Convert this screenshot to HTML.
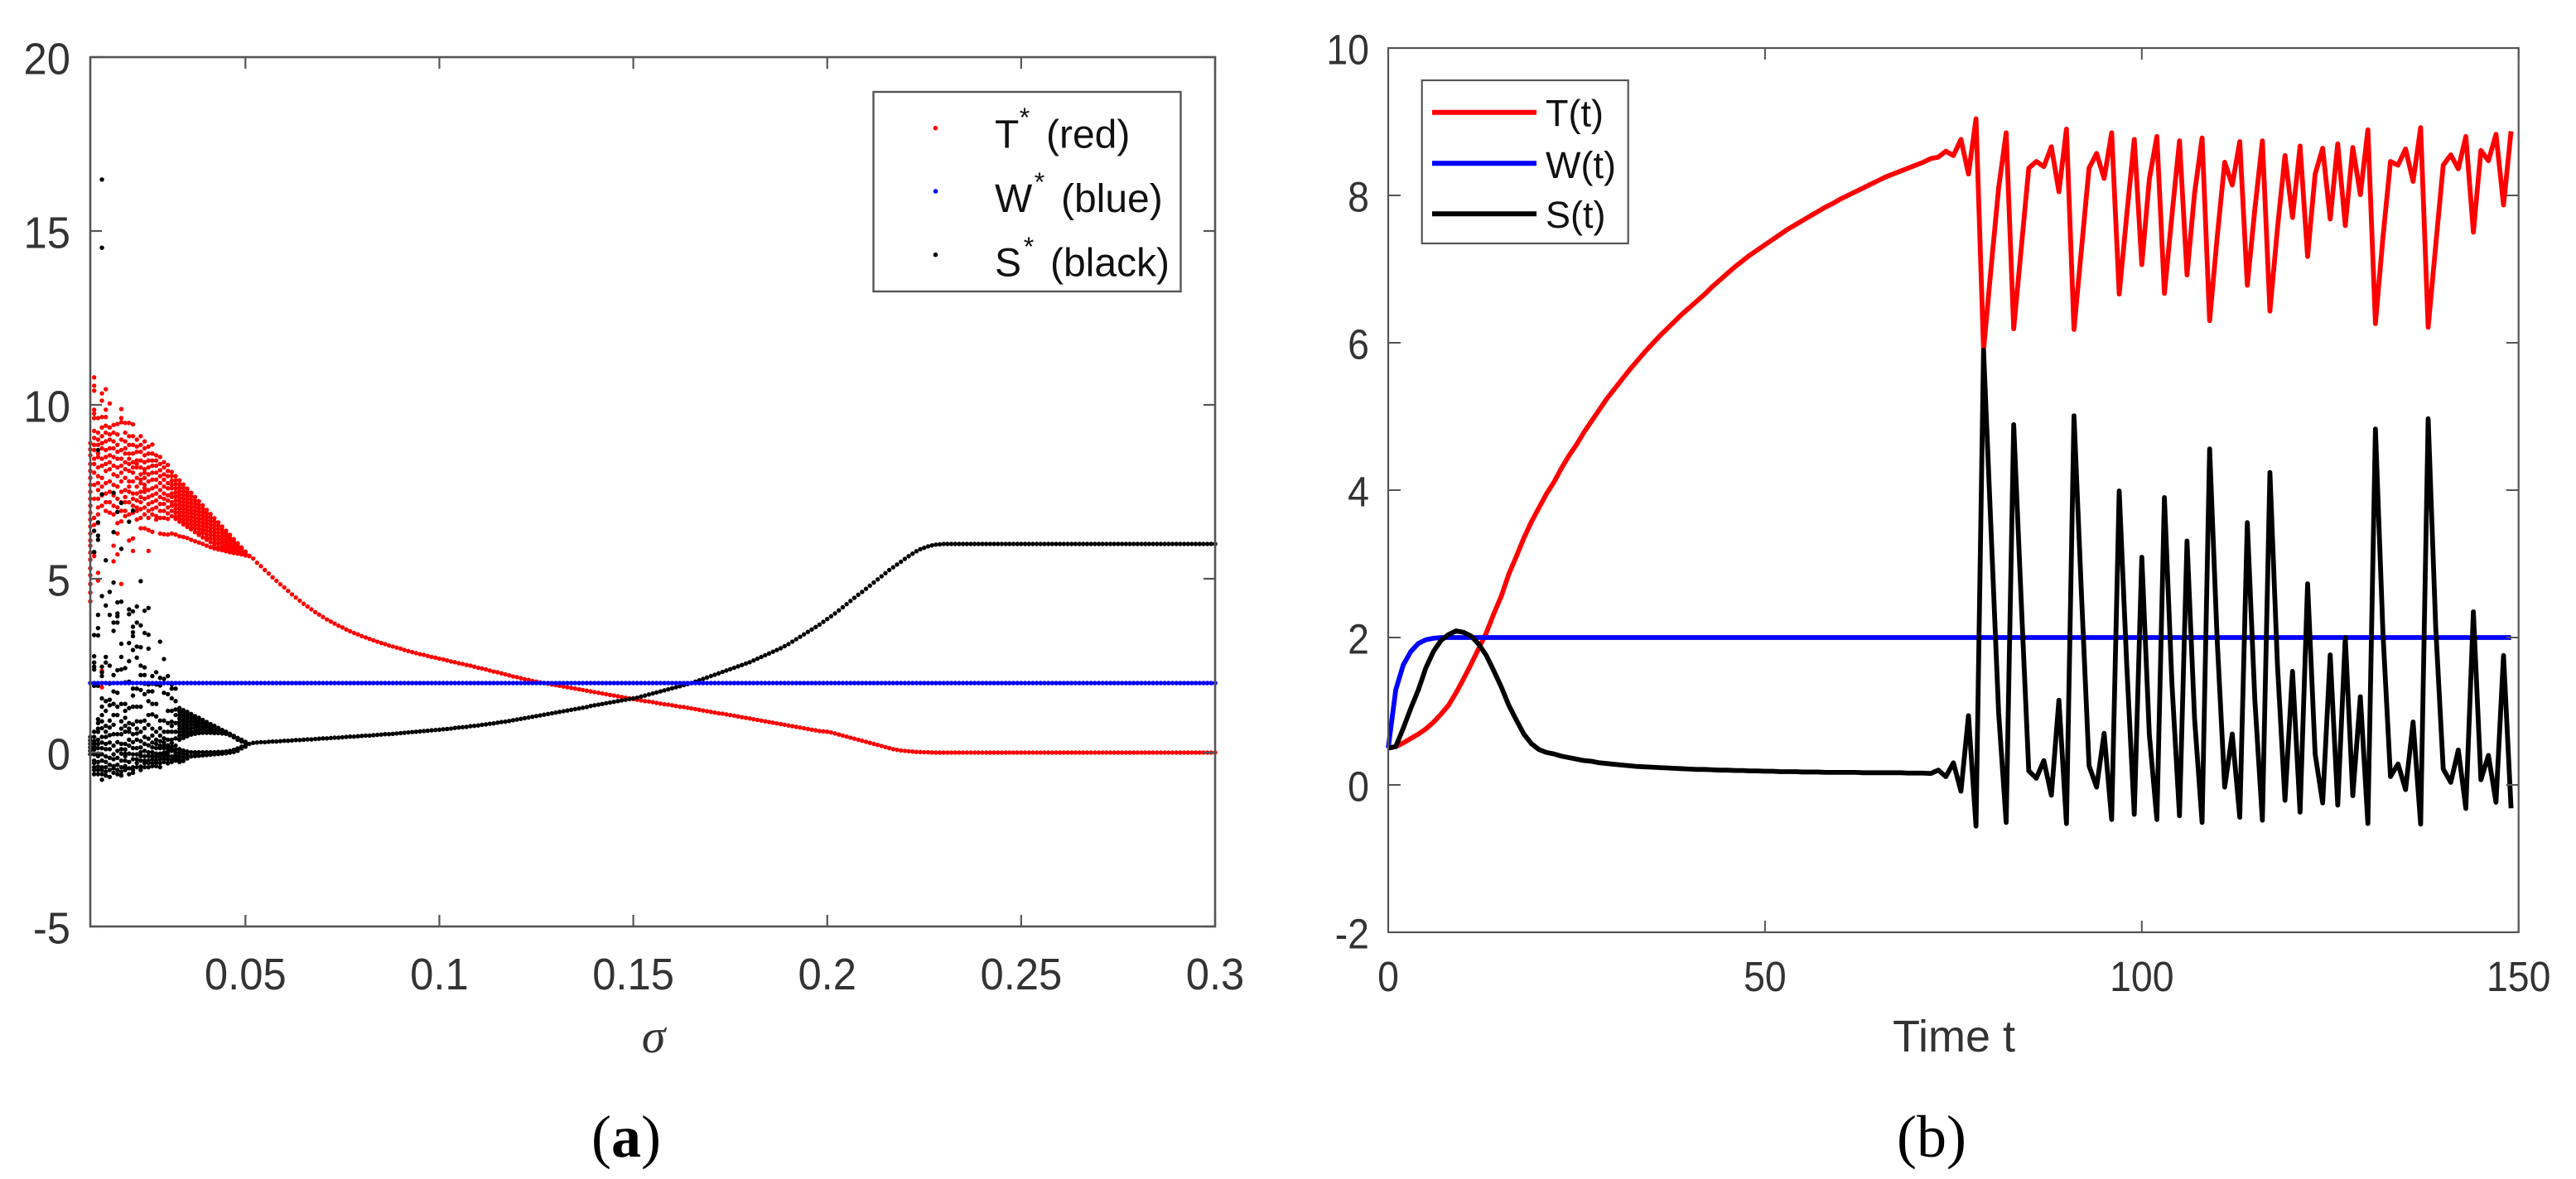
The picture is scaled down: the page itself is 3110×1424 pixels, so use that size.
<!DOCTYPE html>
<html lang="en">
<head>
<meta charset="utf-8">
<title>Bifurcation diagram and time series</title>
<style>
html,body{margin:0;padding:0;background:#fff;}
svg{display:block;font-family:"Liberation Sans",Arial,sans-serif;}
</style>
</head>
<body>
<svg id="figure" xmlns="http://www.w3.org/2000/svg" width="3110" height="1424" viewBox="0 0 3110 1424">
  <rect width="3110" height="1424" fill="#fff"/>
  <g id="panelA">
    <g id="marksA"></g>
    <rect x="109" y="69" width="1358" height="1050" fill="none" stroke="#555" stroke-width="2.6"/>
    <g id="ticksA"></g>
    <text x="789" y="1271" text-anchor="middle" font-family="'Liberation Serif',serif" font-style="italic" font-size="58" fill="#333">σ</text>
    <text x="756" y="1397" text-anchor="middle" font-family="'Liberation Serif',serif" font-size="72" fill="#000">(<tspan font-weight="bold">a</tspan>)</text>
    <g>
      <rect x="1054.5" y="111" width="371" height="241" fill="#fff" stroke="#555" stroke-width="2.4"/>
      <g>
        <circle cx="1129.5" cy="154.7" r="2.8" fill="#f00"/>
        <text x="1201" y="178.5" font-size="48" fill="#111">T</text>
        <text x="1237" y="153" text-anchor="middle" font-size="32" fill="#111">*</text>
        <text x="1263" y="178.5" font-size="48" fill="#111">(red)</text>
      </g>
      <g>
        <circle cx="1129.5" cy="231" r="2.8" fill="#00f"/>
        <text x="1201" y="256" font-size="48" fill="#111">W</text>
        <text x="1255" y="231" text-anchor="middle" font-size="32" fill="#111">*</text>
        <text x="1281" y="256" font-size="48" fill="#111">(blue)</text>
      </g>
      <g>
        <circle cx="1129.5" cy="307.7" r="2.8" fill="#000"/>
        <text x="1201" y="333.5" font-size="48" fill="#111">S</text>
        <text x="1242" y="309" text-anchor="middle" font-size="32" fill="#111">*</text>
        <text x="1268" y="333.5" font-size="48" fill="#111">(black)</text>
      </g>
    </g>
  </g>
  <g id="panelB">
    <g id="marksB"></g>
    <rect x="1676" y="58" width="1364.7" height="1068" fill="none" stroke="#555" stroke-width="2.2"/>
    <g id="ticksB"></g>
    <text x="2359" y="1270" text-anchor="middle" font-size="54" fill="#333">Time t</text>
    <text x="2332" y="1397" text-anchor="middle" font-family="'Liberation Serif',serif" font-size="72" fill="#000">(b)</text>
    <g>
      <rect x="1716.7" y="97" width="249" height="197" fill="#fff" stroke="#555" stroke-width="2.2"/>
      <line x1="1729" x2="1855" y1="135.7" y2="135.7" stroke="#f00" stroke-width="6"/>
      <text x="1866" y="152.7" font-size="45" fill="#111">T(t)</text>
      <line x1="1729" x2="1855" y1="197.3" y2="197.3" stroke="#00f" stroke-width="6"/>
      <text x="1866" y="215" font-size="45" fill="#111">W(t)</text>
      <line x1="1729" x2="1855" y1="258.3" y2="258.3" stroke="#000" stroke-width="6"/>
      <text x="1866" y="275" font-size="45" fill="#111">S(t)</text>
    </g>
  </g>
</svg>
<script>
/* ---------- Panel (a): values ---------- */
const sigmaChaotic = [0.010,0.011,0.012,0.013,0.014,0.015,0.016,0.017,0.018,0.019,0.020,0.021,0.022,0.023,0.024,0.025,0.026,0.027,0.028,0.029,0.030,0.031,0.032,0.033,0.034,0.035,0.036,0.037,0.038,0.039,0.040,0.041,0.042,0.043,0.044,0.045,0.046,0.047,0.048,0.049,0.050,0.051];
const sigmaStable = [0.052,0.053,0.054,0.055,0.056,0.057,0.058,0.059,0.060,0.061,0.062,0.063,0.064,0.065,0.066,0.067,0.068,0.069,0.070,0.071,0.072,0.073,0.074,0.075,0.076,0.077,0.078,0.079,0.080,0.081,0.082,0.083,0.084,0.085,0.086,0.087,0.088,0.089,0.090,0.091,0.092,0.093,0.094,0.095,0.096,0.097,0.098,0.099,0.100,0.101,0.102,0.103,0.104,0.105,0.106,0.107,0.108,0.109,0.110,0.111,0.112,0.113,0.114,0.115,0.116,0.117,0.118,0.119,0.120,0.121,0.122,0.123,0.124,0.125,0.126,0.127,0.128,0.129,0.130,0.131,0.132,0.133,0.134,0.135,0.136,0.137,0.138,0.139,0.140,0.141,0.142,0.143,0.144,0.145,0.146,0.147,0.148,0.149,0.150,0.151,0.152,0.153,0.154,0.155,0.156,0.157,0.158,0.159,0.160,0.161,0.162,0.163,0.164,0.165,0.166,0.167,0.168,0.169,0.170,0.171,0.172,0.173,0.174,0.175,0.176,0.177,0.178,0.179,0.180,0.181,0.182,0.183,0.184,0.185,0.186,0.187,0.188,0.189,0.190,0.191,0.192,0.193,0.194,0.195,0.196,0.197,0.198,0.199,0.200,0.201,0.202,0.203,0.204,0.205,0.206,0.207,0.208,0.209,0.210,0.211,0.212,0.213,0.214,0.215,0.216,0.217,0.218,0.219,0.220,0.221,0.222,0.223,0.224,0.225,0.226,0.227,0.228,0.229,0.230,0.231,0.232,0.233,0.234,0.235,0.236,0.237,0.238,0.239,0.240,0.241,0.242,0.243,0.244,0.245,0.246,0.247,0.248,0.249,0.250,0.251,0.252,0.253,0.254,0.255,0.256,0.257,0.258,0.259,0.260,0.261,0.262,0.263,0.264,0.265,0.266,0.267,0.268,0.269,0.270,0.271,0.272,0.273,0.274,0.275,0.276,0.277,0.278,0.279,0.280,0.281,0.282,0.283,0.284,0.285,0.286,0.287,0.288,0.289,0.290,0.291,0.292,0.293,0.294,0.295,0.296,0.297,0.298,0.299,0.300];

const tStarChaotic = [
[8.9,8.72,8.55,8.3,8.1,7.9,7.7,7.5,7.3,7.1,6.9,6.7,6.5,6.3,6.1,5.95,5.75,5.55,5.3,5.1,4.85,4.6,4.35],
[10.79,10.55,10.41,9.86,9.75,9.62,9.25,9.05,8.85,8.7,8.45,8.3,8.05,7.7,7.3,6.75,6.55,5.75,5.65],
[9.62,9.2,9.0,8.85,8.6,8.5,8.2,7.95,7.75,7.55,7.3,7.05,6.85,6.6,5.17,4.95],
[10.33,10.12,9.65,9.35,9.1,8.9,8.75,8.45,8.25,7.9,7.65,7.4,7.1,2.35,1.88],
[10.45,9.86,9.65,9.4,9.2,8.95,8.7,8.5,8.3,8.1,7.75,7.45,7.2,6.95],
[10.04,9.35,9.15,9.0,8.75,8.55,8.35,8.15,7.8,7.5,7.2,6.9],
[9.42,9.2,8.95,8.75,8.5,8.25,8.0,7.7,7.4,7.1,6.85,5.95,5.5],
[9.45,9.15,8.85,8.65,8.45,8.2,7.95,7.65,7.3,7.05,6.6,6.3,5.7],
[9.88,9.62,9.5,9.0,8.7,8.45,8.25,8.05,7.8,7.5,7.2,6.95,6.65,4.85],
[9.48,9.2,8.95,8.75,8.6,8.35,8.15,7.9,7.55,7.35,7.2,6.95,6.8],
[9.48,9.1,8.85,8.6,8.45,8.3,8.1,7.8,7.65,7.5,7.2,6.85,6.1],
[9.44,9.1,8.85,8.6,8.35,8.2,8.05,7.8,7.45,7.3,7.1,6.9,6.16,5.8],
[9.0,8.8,8.65,8.4,8.3,8.2,7.9,7.65,7.45,7.25,7.05,6.95,6.7],
[9.1,8.85,8.65,8.4,8.2,8.0,7.85,7.75,7.5,7.35,7.2,7.0,6.75,6.45],
[8.95,8.75,8.55,8.35,8.15,8.05,7.9,7.7,7.6,7.5,7.3,7.05,6.85,6.45],
[8.8,8.6,8.4,8.2,8.0,7.8,7.55,7.35,7.15,6.95,6.75,6.4,5.8],
[8.86,8.6,8.4,8.25,8.05,7.85,7.6,7.4,7.2,7.0,6.85,6.35],
[8.55,8.4,8.25,8.05,7.85,7.65,7.45,7.25,7.05,6.8,6.7],
[8.5,8.3,8.12,7.95,7.75,7.55,7.35,7.15,6.95,6.75,6.3],
[8.35,8.2,8.0,7.85,7.65,7.45,7.3,7.15,6.95,6.75,6.28],
[8.27,8.1,7.95,7.75,7.6,7.4,7.25,7.05,6.88,6.72,6.27],
[8.07,7.95,7.82,7.7,7.6,7.45,7.35,7.2,7.1,6.95,6.8,6.3],
[7.95,7.83,7.72,7.6,7.48,7.37,7.25,7.13,7.02,6.9,6.78,6.72,6.27],
[7.83,7.72,7.62,7.52,7.42,7.32,7.22,7.12,7.02,6.92,6.82,6.72,6.64,6.22],
[7.71,7.61,7.51,7.41,7.31,7.21,7.11,7.01,6.91,6.81,6.71,6.61,6.56,6.2],
[7.59,7.49,7.39,7.29,7.19,7.09,6.99,6.89,6.79,6.69,6.59,6.49,6.17],
[7.47,7.37,7.27,7.17,7.07,6.97,6.87,6.77,6.67,6.57,6.47,6.42,6.12],
[7.35,7.25,7.15,7.05,6.95,6.85,6.75,6.65,6.55,6.45,6.34,6.08],
[7.23,7.13,7.03,6.93,6.83,6.73,6.63,6.53,6.43,6.33,6.26,6.04],
[7.11,7.01,6.91,6.81,6.71,6.61,6.51,6.41,6.31,6.19,6.0],
[6.98,6.88,6.78,6.68,6.58,6.48,6.38,6.28,6.18,6.12,5.95],
[6.86,6.76,6.66,6.56,6.46,6.36,6.26,6.16,6.05,5.91],
[6.74,6.64,6.54,6.44,6.34,6.24,6.14,6.04,5.97,5.87],
[6.62,6.52,6.42,6.32,6.22,6.12,6.02,5.9,5.84],
[6.5,6.41,6.32,6.23,6.14,6.05,5.96,5.88,5.82],
[6.38,6.3,6.22,6.14,6.06,5.98,5.9,5.84,5.79],
[6.26,6.18,6.1,6.02,5.94,5.87,5.81,5.76],
[6.14,6.07,6.0,5.93,5.86,5.8,5.74],
[6.02,5.96,5.9,5.84,5.78,5.72],
[5.9,5.84,5.79,5.74,5.7],
[5.78,5.74,5.7,5.67],
[5.66,5.65]
];
const tStarStable = [5.58,5.46,5.36,5.25,5.15,5.04,4.94,4.84,4.75,4.65,4.55,4.46,4.37,4.28,4.20,4.12,4.04,3.97,3.90,3.83,3.77,3.71,3.65,3.60,3.54,3.49,3.44,3.40,3.35,3.31,3.27,3.23,3.19,3.15,3.12,3.08,3.05,3.02,2.99,2.95,2.92,2.89,2.86,2.83,2.81,2.78,2.75,2.73,2.70,
2.68,2.65,2.62,2.60,2.57,2.55,2.52,2.50,2.47,2.44,2.42,2.39,2.36,2.33,2.31,2.28,2.25,2.22,2.19,2.17,2.14,2.11,2.09,2.06,2.04,2.02,2.00,
1.98,1.96,1.94,1.92,1.90,1.88,1.86,1.84,1.82,1.80,1.78,1.76,1.74,1.72,1.70,1.68,1.66,1.64,1.62,1.60,1.58,1.56,1.54,
1.52,1.50,1.48,1.47,1.45,1.43,1.41,1.39,1.38,1.36,1.34,1.32,1.31,1.29,1.27,1.25,1.23,1.21,1.19,1.17,1.15,1.13,1.12,1.10,1.08,
1.06,1.04,1.02,1.00,0.98,0.96,0.94,0.92,0.90,0.88,0.86,0.84,0.82,0.80,0.78,0.76,0.74,0.72,0.70,0.68,0.66,0.64,0.62,0.61,0.60,
0.58,0.55,0.52,0.49,0.46,0.43,0.40,0.37,0.34,0.31,0.28,0.25,0.22,0.19,0.16,0.13,0.10,0.08,0.06,0.05,0.04,0.03,0.02,0.015,0.01,0.01,0.005,0,0,0,
0,0,0,0,0,0,0,0,0,0,0,0,0,0,0,0,0,0,0,0,0,0,0,0,0,0,0,0,0,0,0,0,0,0,0,0,0,0,0,0,0,0,0,0,0,0,0,0,0,0,0,0,0,0,0,0,0,0,0,0,0,0,0,0,0,0,0,0,0,0];

const sStarChaotic = [
[0.45,0.35,0.25,0.15,0.05,-0.05],
[6.38,5.77,3.38,2.77,2.59,2.47,2.39,1.92,0.6,0.45,0.33,0.25,0.17,0.09,-0.05,-0.23,-0.3,-0.42,-0.5,-0.62],
[8.7,6.62,6.24,6.12,3.96,3.58,3.37,1.92,0.96,0.85,0.69,0.6,0.37,0.25,0.13,-0.03,-0.1,-0.27,-0.4,-0.5,-0.62],
[14.52,16.48,7.43,4.5,2.47,2.31,2.2,1.56,1.32,1.08,0.9,0.7,0.45,0.29,0.13,-0.05,-0.23,-0.42,-0.5,-0.62,-0.78],
[5.53,4.23,2.75,2.59,1.48,1.2,0.77,0.6,0.45,0.25,0.1,-0.11,-0.27,-0.42,-0.55,-0.66],
[4.62,3.96,2.5,1.98,1.52,1.36,0.92,0.72,0.5,0.29,0.1,-0.15,-0.35,-0.5,-0.7],
[7.47,6.34,4.89,3.74,3.5,2.23,1.76,1.4,1.08,0.8,0.53,0.2,-0.05,-0.19,-0.39,-0.45,-0.58],
[6.92,4.32,4.0,3.92,3.74,2.37,1.72,1.32,1.08,0.53,0.3,0.05,-0.15,-0.35,-0.5,-0.62],
[7.18,5.86,4.34,3.13,2.75,2.39,1.4,0.9,0.69,0.53,0.25,0.1,-0.03,-0.23,-0.42,-0.55,-0.66],
[2.43,2.02,1.4,1.2,1.0,0.77,0.6,0.25,0.09,-0.03,-0.1,-0.23,-0.39,-0.46,-0.5],
[6.64,4.12,3.98,3.15,2.63,2.04,1.28,0.85,0.69,0.6,0.37,0.2,-0.03,-0.27,-0.45,-0.62],
[6.96,4.06,3.62,3.46,3.35,2.95,1.84,1.64,1.32,0.81,0.53,0.3,0.13,-0.05,-0.19,-0.42,-0.5,-0.58],
[4.2,3.74,3.05,2.73,1.84,1.32,0.9,0.69,0.55,0.37,0.13,-0.05,-0.19,-0.3,-0.42],
[4.93,3.66,3.03,2.5,2.23,1.8,1.32,0.89,0.6,0.33,0.15,0.01,-0.1,-0.23,-0.4,-0.5],
[4.08,3.44,2.45,2.23,1.98,1.68,0.92,0.7,0.45,0.25,0.05,-0.1,-0.23,-0.3,-0.42],
[4.16,3.39,2.99,1.96,1.76,1.48,1.08,0.8,0.4,0.21,0.01,-0.1,-0.23,-0.3,-0.42],
[2.2,1.98,1.76,1.4,1.1,0.69,0.49,0.29,0.15,0.01,-0.1,-0.19,-0.3,-0.39],
[2.31,1.96,1.4,1.04,0.6,0.37,0.25,0.13,-0.03,-0.12,-0.23,-0.3,-0.39],
[3.19,2.15,1.93,0.92,0.7,0.49,0.33,0.2,0.13,-0.03,-0.1,-0.19,-0.3,-0.42],
[2.69,2.12,2.0,1.72,0.92,0.6,0.41,0.29,0.2,0.13,0.0,-0.07,-0.17,-0.27],
[2.2,1.68,1.2,0.85,0.6,0.37,0.21,0.13,0.05,-0.02,-0.11,-0.2,-0.31],
[1.96,1.84,1.56,1.2,0.89,0.77,0.6,0.37,0.28,0.17,0.11,0.05,-0.11,-0.2,-0.27],
[1.84,1.48,1.24,1.08,0.85,0.6,0.41,0.2,0.09,0.0,-0.07,-0.15,-0.23],
[1.28,1.18,1.08,0.98,0.88,0.78,0.68,0.58,0.48,0.37,0.1,0.0,-0.1,-0.2,-0.27],
[1.22,1.12,1.02,0.92,0.82,0.72,0.62,0.52,0.42,0.06,-0.04,-0.14,-0.24],
[1.17,1.07,0.97,0.87,0.77,0.67,0.57,0.47,0.03,-0.07,-0.17],
[1.11,1.01,0.91,0.81,0.71,0.61,0.52,0.01,-0.11],
[1.05,0.96,0.87,0.78,0.69,0.6,0.54,0.01,-0.05,-0.1],
[1.0,0.91,0.82,0.73,0.64,0.56,0.01,-0.09],
[0.94,0.85,0.76,0.67,0.57,0.01,-0.08],
[0.88,0.8,0.72,0.64,0.57,0.01,-0.07],
[0.82,0.74,0.66,0.57,0.01,-0.06],
[0.77,0.7,0.63,0.56,0.01,-0.05],
[0.71,0.64,0.56,0.02,-0.04],
[0.65,0.6,0.55,0.02,-0.03],
[0.6,0.54,0.03,-0.02],
[0.54,0.5,0.05,0.0],
[0.48,0.44,0.08,0.02],
[0.42,0.37,0.12,0.05],
[0.37,0.32,0.17,0.12],
[0.31,0.28,0.21,0.17],
[0.25]
];
const sStarStable = [0.28,0.29,0.30,0.30,0.31,0.32,0.32,0.33,0.34,
0.34,0.35,0.36,0.36,0.37,0.38,0.38,0.39,0.40,0.41,
0.41,0.42,0.43,0.43,0.44,0.45,0.46,0.46,0.47,0.48,
0.49,0.49,0.50,0.51,0.52,0.53,0.53,0.54,0.55,0.56,
0.57,0.58,0.59,0.60,0.61,0.62,0.63,0.64,0.65,0.66,
0.67,0.68,0.69,0.71,0.72,0.73,0.74,0.76,0.77,0.78,
0.80,0.81,0.83,0.84,0.86,0.88,0.89,0.91,0.93,0.95,
0.97,0.99,1.01,1.03,1.05,1.07,1.09,1.11,1.13,1.15,
1.17,1.19,1.21,1.23,1.25,1.27,1.29,1.31,1.34,1.36,
1.38,1.40,1.42,1.44,1.46,1.48,1.50,1.52,1.54,1.56,
1.58,1.61,1.64,1.67,1.70,1.73,1.76,1.79,1.82,1.85,
1.88,1.91,1.94,1.97,2.00,2.04,2.08,2.12,2.16,2.20,
2.24,2.28,2.32,2.36,2.40,2.44,2.48,2.52,2.56,2.60,
2.65,2.70,2.75,2.80,2.85,2.90,2.95,3.00,3.06,3.12,
3.19,3.26,3.33,3.40,3.47,3.54,3.61,3.68,3.76,3.84,
3.92,4.00,4.09,4.18,4.27,4.36,4.45,4.54,4.62,4.71,
4.80,4.89,4.98,5.07,5.16,5.25,5.33,5.41,5.49,5.57,
5.65,5.72,5.79,5.85,5.89,5.93,5.96,5.98,5.99,6.00,
6,6,6,6,6,6,6,6,6,6,6,6,6,6,6,6,6,6,6,6,6,6,6,6,6,6,6,6,6,6,6,6,6,6,6,6,6,6,6,6,6,6,6,6,6,6,6,6,6,6,6,6,6,6,6,6,6,6,6,6,6,6,6,6,6,6,6,6,6,6];

const wStarLevel = [2,2,2,2,2,2,2,2,2,2,2,2,2,2,2,2,2,2,2,2,2,2,2,2,2,2,2,2,2,2,2,2,2,2,2,2,2,2,2,2,2,2,2,2,2,2,2,2,2,2,2,2,2,2,2,2,2,2,2,2,2,2,2,2,2,2,2,2,2,2,2,2,2,2,2,2,2,2,2,2,2,2,2,2,2,2,2,2,2,2,2,2,2,2,2,2,2,2,2,2,2,2,2,2,2,2,2,2,2,2,2,2,2,2,2,2,2,2,2,2,2,2,2,2,2,2,2,2,2,2,2,2,2,2,2,2,2,2,2,2,2,2,2,2,2,2,2,2,2,2,2,2,2,2,2,2,2,2,2,2,2,2,2,2,2,2,2,2,2,2,2,2,2,2,2,2,2,2,2,2,2,2,2,2,2,2,2,2,2,2,2,2,2,2,2,2,2,2,2,2,2,2,2,2,2,2,2,2,2,2,2,2,2,2,2,2,2,2,2,2,2,2,2,2,2,2,2,2,2,2,2,2,2,2,2,2,2,2,2,2,2,2,2,2,2,2,2,2,2,2,2,2,2,2,2,2,2,2,2,2,2,2,2,2,2,2,2,2,2,2,2,2,2,2,2,2,2,2,2,2,2,2,2,2,2,2,2,2,2,2,2,2,2,2,2,2];

const xTicksA = [0.05,0.1,0.15,0.2,0.25,0.3];
const xTickLabelsA = ["0.05","0.1","0.15","0.2","0.25","0.3"];
const yTicksA = [-5,0,5,10,15,20];
const yTickLabelsA = ["-5","0","5","10","15","20"];

/* ---------- Panel (b): values ---------- */
const timeValues = [0,1,2,3,4,5,6,7,8,9,10,11,12,13,14,15,16,17,18,19,20,21,22,23,24,25,26,27,28,29,30,31,32,33,34,35,36,37,38,39,40,41,42,43,44,45,46,47,48,49,50,51,52,53,54,55,56,57,58,59,60,61,62,63,64,65,66,67,68,69,70,71,72,73,74,75,76,77,78,79,80,81,82,83,84,85,86,87,88,89,90,91,92,93,94,95,96,97,98,99,100,101,102,103,104,105,106,107,108,109,110,111,112,113,114,115,116,117,118,119,120,121,122,123,124,125,126,127,128,129,130,131,132,133,134,135,136,137,138,139,140,141,142,143,144,145,146,147,148,149];
const tSeries = [0.5,0.52,0.57,0.63,0.69,0.76,0.85,0.96,1.08,1.25,
1.44,1.64,1.85,2.06,2.32,2.56,2.86,3.1,3.35,3.57,
3.76,3.95,4.11,4.3,4.47,4.62,4.79,4.94,5.09,5.24,
5.37,5.5,5.63,5.75,5.87,5.98,6.09,6.19,6.29,6.39,
6.48,6.57,6.66,6.76,6.85,6.94,7.03,7.11,7.19,7.26,
7.33,7.4,7.47,7.54,7.6,7.66,7.72,7.78,7.84,7.89,
7.95,8.0,8.05,8.1,8.15,8.2,8.25,8.29,8.33,8.37,
8.41,8.45,8.5,8.52,8.6,8.54,8.76,8.29,9.04,5.9,
7.02,8.1,8.85,6.19,7.28,8.37,8.46,8.39,8.66,8.05,
8.9,6.18,7.28,8.37,8.57,8.23,8.85,6.66,7.73,8.76,
7.06,8.22,8.8,6.67,7.73,8.74,6.92,8.03,8.78,6.3,
7.43,8.45,8.14,8.73,6.78,7.81,8.74,6.43,7.55,8.54,
7.7,8.67,7.17,8.29,8.64,7.68,8.7,7.59,8.65,8.01,
8.89,6.26,7.43,8.46,8.41,8.63,8.19,8.92,6.21,7.32,
8.41,8.55,8.36,8.8,7.5,8.61,8.47,8.83,7.87,8.87];
const wSeries = [0.5,1.29,1.63,1.81,1.92,1.97,1.99,2,2,2,2,2,2,2,2,2,2,2,2,2,2,2,2,2,2,2,2,2,2,2,2,2,2,2,2,2,2,2,2,2,2,2,2,2,2,2,2,2,2,2,2,2,2,2,2,2,2,2,2,2,2,2,2,2,2,2,2,2,2,2,2,2,2,2,2,2,2,2,2,2,2,2,2,2,2,2,2,2,2,2,2,2,2,2,2,2,2,2,2,2,2,2,2,2,2,2,2,2,2,2,2,2,2,2,2,2,2,2,2,2,2,2,2,2,2,2,2,2,2,2,2,2,2,2,2,2,2,2,2,2,2,2,2,2,2,2,2,2,2,2];
const sSeries = [0.5,0.52,0.77,1.04,1.29,1.59,1.81,1.96,2.04,2.09,
2.07,2.02,1.91,1.76,1.55,1.33,1.08,0.88,0.69,0.56,
0.48,0.44,0.42,0.39,0.37,0.35,0.33,0.32,0.3,0.29,
0.28,0.27,0.26,0.25,0.245,0.24,0.235,0.23,0.225,0.22,
0.215,0.21,0.21,0.205,0.2,0.2,0.195,0.195,0.19,0.19,
0.185,0.185,0.18,0.18,0.18,0.175,0.175,0.175,0.17,0.17,
0.17,0.17,0.17,0.165,0.165,0.165,0.165,0.165,0.165,0.16,
0.16,0.16,0.155,0.2,0.112,0.3,-0.086,0.94,-0.56,5.9,
3.44,0.98,-0.51,4.89,2.49,0.19,0.09,0.33,-0.14,1.15,
-0.525,5.01,2.57,0.26,-0.03,0.7,-0.47,3.99,1.63,-0.4,
3.09,0.68,-0.47,3.9,1.37,-0.42,3.31,0.9,-0.51,4.56,
1.97,-0.03,0.69,-0.44,3.56,1.15,-0.48,4.24,1.63,-0.21,
1.54,-0.37,2.73,0.42,-0.245,1.765,-0.275,2.0,-0.146,1.197,
-0.525,4.83,2.06,0.112,0.284,-0.064,0.854,-0.533,4.97,2.14,
0.216,0.034,0.474,-0.32,2.35,0.07,0.4,-0.236,1.757,-0.317];
const xTicksB = [0,50,100,150];
const xTickLabelsB = ["0","50","100","150"];
const yTicksB = [-2,0,2,4,6,8,10];
const yTickLabelsB = ["-2","0","2","4","6","8","10"];

/* ---------- Axis functions ---------- */
const xA = s => 109 + (s - 0.01) * 1358 / 0.29;
const yA = v => 909 - 42 * v;
const xB = t => 1676 + t * 9.098;
const yB = v => 948 - 89 * v;

const NS = "http://www.w3.org/2000/svg";
const svgEl = (tag, parent, attrs) => {
  const n = document.createElementNS(NS, tag);
  for (const k in attrs) n.setAttribute(k, attrs[k]);
  parent.appendChild(n);
  return n;
};

/* ---------- Draw panel (a) marks ---------- */
const marksA = document.getElementById("marksA");
const sigmaAll = sigmaChaotic.concat(sigmaStable);
const tStarAll = tStarChaotic.concat(tStarStable);
const sStarAll = sStarChaotic.concat(sStarStable);

sigmaAll.forEach((s, i) => {
  [].concat(tStarAll[i]).forEach(v => {
    const c = svgEl("circle", marksA, {cx: xA(s).toFixed(2), cy: yA(v).toFixed(2), r: 2.7, fill: "#f00"});
    
    
  });
});
sigmaAll.forEach((s, i) => {
  [].concat(sStarAll[i]).forEach(v => {
    const c = svgEl("circle", marksA, {cx: xA(s).toFixed(2), cy: yA(v).toFixed(2), r: 2.7, fill: "#000"});
    
    
  });
});
sigmaAll.forEach((s, i) => {
  const c = svgEl("circle", marksA, {cx: xA(s).toFixed(2), cy: yA(wStarLevel[i]).toFixed(2), r: 2.8, fill: "#00f"});
  
  
});

/* ---------- Draw panel (b) lines ---------- */
const marksB = document.getElementById("marksB");
const linePoints = arr => timeValues.map((t, i) => xB(t).toFixed(2) + "," + yB(arr[i]).toFixed(2)).join(" ");
const lineT = svgEl("polyline", marksB, {points: linePoints(tSeries), fill: "none", stroke: "#f00", "stroke-width": 5.8, "stroke-linejoin": "round"});


const lineW = svgEl("polyline", marksB, {points: linePoints(wSeries), fill: "none", stroke: "#00f", "stroke-width": 5.8, "stroke-linejoin": "round"});


const lineS = svgEl("polyline", marksB, {points: linePoints(sSeries), fill: "none", stroke: "#000", "stroke-width": 5.8, "stroke-linejoin": "round"});



/* ---------- Ticks ---------- */
const ticksA = document.getElementById("ticksA");
xTicksA.forEach((v, i) => {
  const x = xA(v);
  [[1119, 1105], [69, 83]].forEach(p => {
    const t = svgEl("line", ticksA, {x1: x, x2: x, y1: p[0], y2: p[1], stroke: "#555", "stroke-width": 2.2});
    
    
  });
  const l = svgEl("text", ticksA, {transform: "translate(" + x + ",1195) scale(0.94,1)", "text-anchor": "middle", "font-size": 54, fill: "#333"});
  l.textContent = xTickLabelsA[i];
  
  
});
yTicksA.forEach((v, i) => {
  const y = yA(v);
  [[109, 123], [1467, 1453]].forEach(p => {
    const t = svgEl("line", ticksA, {x1: p[0], x2: p[1], y1: y, y2: y, stroke: "#555", "stroke-width": 2.2});
    
    
  });
  const l = svgEl("text", ticksA, {transform: "translate(85," + (y + 20.5) + ") scale(0.94,1)", "text-anchor": "end", "font-size": 54, fill: "#333"});
  l.textContent = yTickLabelsA[i];
  
  
});

const ticksB = document.getElementById("ticksB");
xTicksB.forEach((v, i) => {
  const x = xB(v);
  [[1126, 1112], [58, 72]].forEach(p => {
    const t = svgEl("line", ticksB, {x1: x, x2: x, y1: p[0], y2: p[1], stroke: "#555", "stroke-width": 2});
    
    
  });
  const l = svgEl("text", ticksB, {transform: "translate(" + x + ",1197) scale(0.91,1)", "text-anchor": "middle", "font-size": 51, fill: "#333"});
  l.textContent = xTickLabelsB[i];
  
  
});
yTicksB.forEach((v, i) => {
  const y = yB(v);
  [[1676, 1691], [3040.7, 3025.7]].forEach(p => {
    const t = svgEl("line", ticksB, {x1: p[0], x2: p[1], y1: y, y2: y, stroke: "#555", "stroke-width": 2});
    
    
  });
  const l = svgEl("text", ticksB, {transform: "translate(1653," + (y + 19.5) + ") scale(0.91,1)", "text-anchor": "end", "font-size": 51, fill: "#333"});
  l.textContent = yTickLabelsB[i];
  
  
});
</script>
</body>
</html>
